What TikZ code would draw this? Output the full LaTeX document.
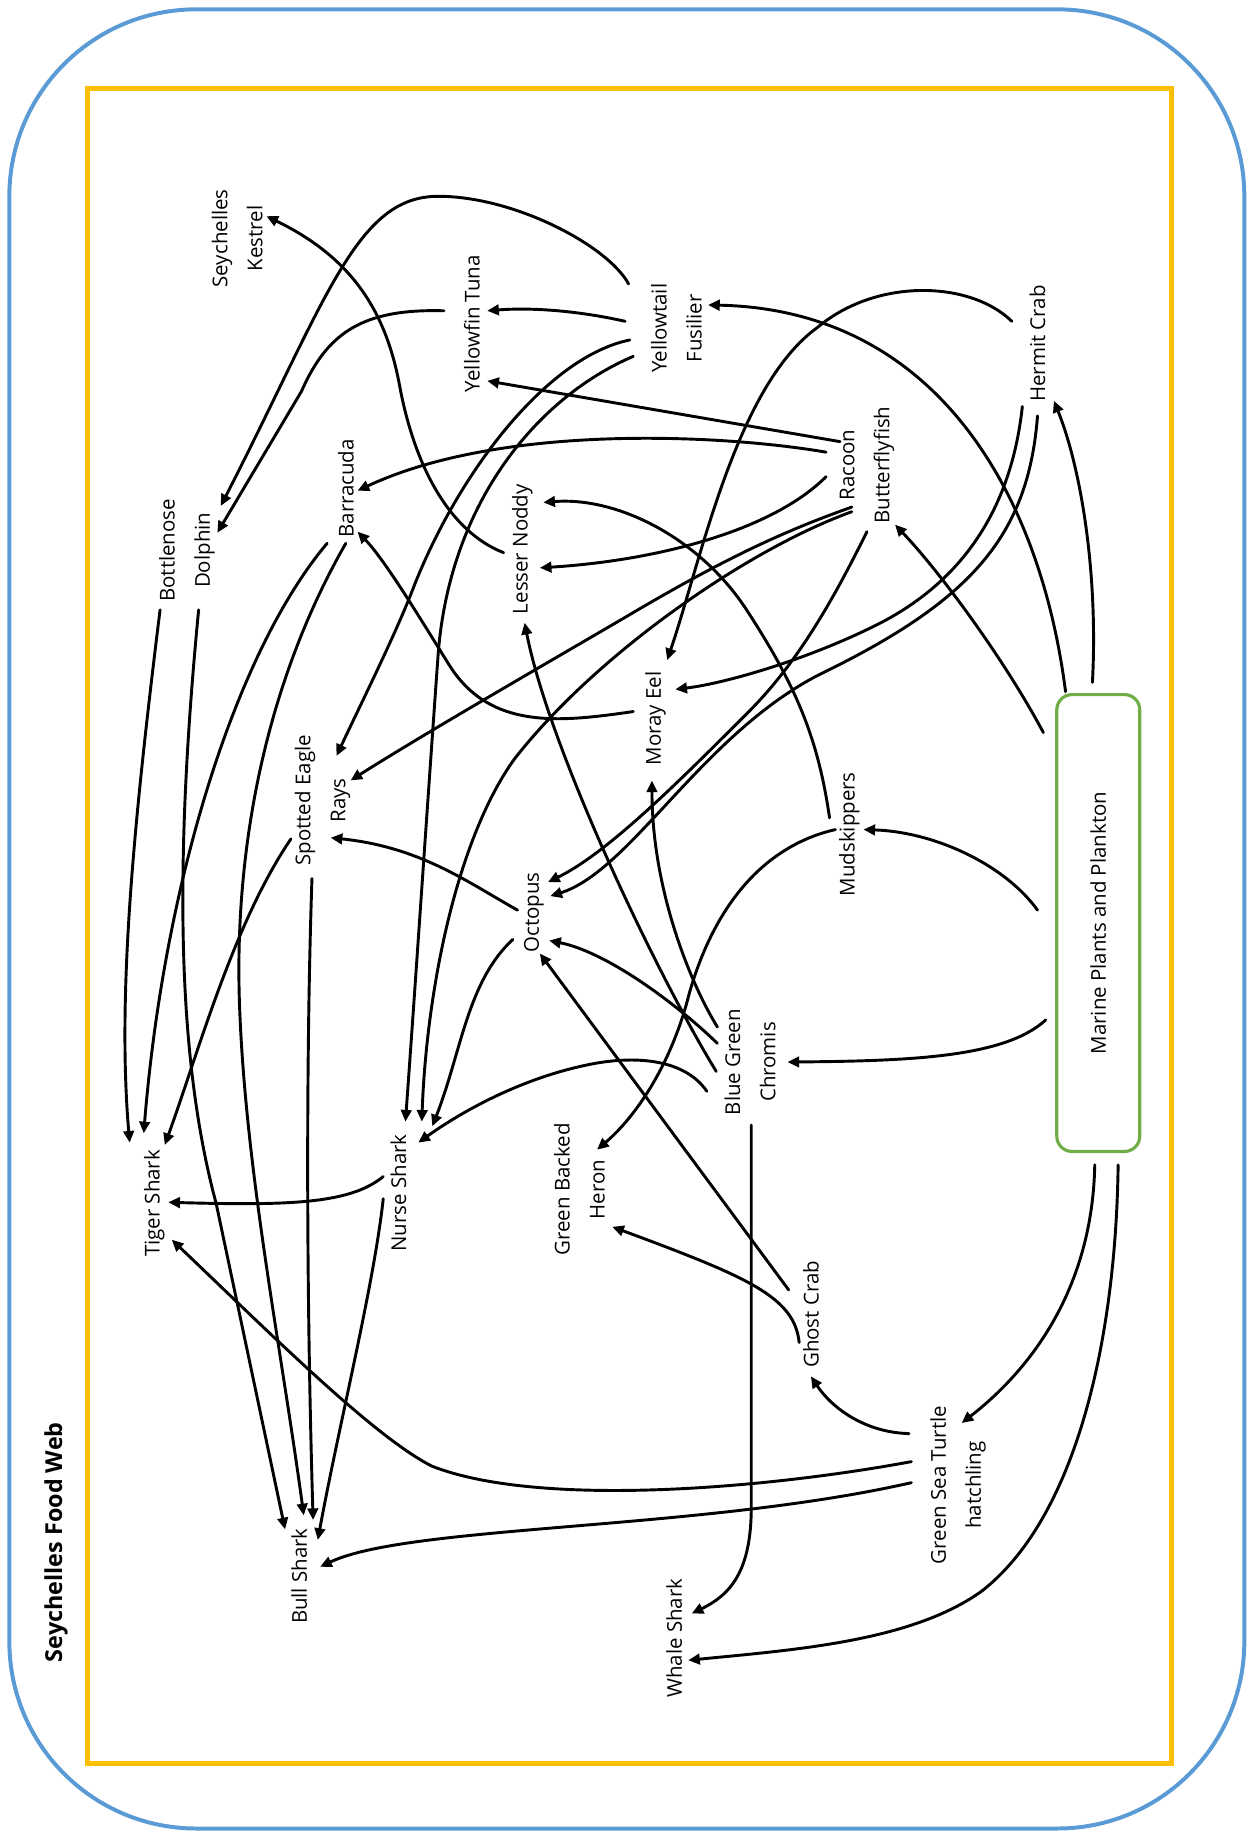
\documentclass[tikz,border=0pt]{standalone}
\usepackage{fontspec}
\setmainfont{Open Sans}
\usetikzlibrary{arrows.meta}
\definecolor{frameblue}{RGB}{91,155,213}
\definecolor{frameorange}{RGB}{255,192,0}
\definecolor{boxgreen}{RGB}{112,173,71}

\begin{document}
\begin{tikzpicture}[x=1pt,y=-1pt,
   species/.style={rotate=90,align=center,inner sep=2pt,font=\fontsize{17.5}{30}\selectfont},
   feeds/.style={-{Triangle[length=10pt,width=9pt]},line width=2.5pt,line cap=round}]
\useasboundingbox (0,0) rectangle (1068,1568);
\draw[frameblue,line width=3.4pt,rounded corners=160pt] (8,8) rectangle (1065,1565);
\draw[frameorange,line width=4.3pt] (75,76) rectangle (1003,1509);

\node[species,font=\bfseries\fontsize{20}{24}\selectfont] (title) at (48,1320) {Seychelles Food Web};
\node[species] (kestrel) at (203,204) {Seychelles\\Kestrel};
\node[species] (tuna) at (404,277) {Yellowfin Tuna};
\node[species] (fusilier) at (579,281) {Yellowtail\\Fusilier};
\node[species] (hermit) at (888,294) {Hermit Crab};
\node[species] (racoon) at (742,398) {Racoon\\Butterflyfish};
\node[species] (barracuda) at (296,418) {Barracuda};
\node[species] (dolphin) at (160,471) {Bottlenose\\Dolphin};
\node[species] (noddy) at (447,470) {Lesser Noddy};
\node[species] (moray) at (561,615) {Moray Eel};
\node[species] (rays) at (276,685) {Spotted Eagle\\Rays};
\node[species] (mudskip) at (727,714) {Mudskippers};
\node[species,draw=boxgreen,line width=2.7pt,rounded corners=13pt,
   minimum width=391pt,minimum height=71pt] (plants) at (940,790) {Marine Plants and Plankton};
\node[species] (octopus) at (457,781) {Octopus};
\node[species] (chromis) at (642,909) {Blue Green\\Chromis};
\node[species] (heron) at (496,1018) {Green Backed\\Heron};
\node[species] (tiger) at (132,1030) {Tiger Shark};
\node[species] (nurse) at (341,1021) {Nurse Shark};
\node[species] (ghost) at (694,1125) {Ghost Crab};
\node[species] (turtle) at (820,1271) {Green Sea Turtle\\hatchling};
\node[species] (bull) at (256,1349) {Bull Shark};
\node[species] (whale) at (577,1402) {Whale Shark};

\draw[feeds] ([shift={(-5,-206)}]plants.center) .. controls (940,490) and (925,400) .. ([shift={(14,49)}]hermit.center);
\draw[feeds] ([shift={(-28,-198)}]plants.center) .. controls (890,420) and (800,265) .. ([shift={(27,-20)}]fusilier.center);
\draw[feeds] ([shift={(-47,-163)}]plants.center) .. controls (860,565) and (805,490) .. ([shift={(24,51)}]racoon.center);
\draw[feeds] ([shift={(-52,-11)}]plants.center) .. controls (860,740) and (800,712) .. ([shift={(12,-4)}]mudskip.center);
\draw[feeds] ([shift={(-45,83)}]plants.center) .. controls (860,905) and (780,908) .. ([shift={(32,0)}]chromis.center);
\draw[feeds] ([shift={(-3,207)}]plants.center) .. controls (935,1100) and (885,1170) .. ([shift={(3,-53)}]turtle.center);
\draw[feeds] ([shift={(17,207)}]plants.center) .. controls (955,1150) and (920,1300) .. (840,1362)
   .. controls (780,1405) and (680,1412) .. ([shift={(12,19)}]whale.center);

\draw[feeds] ([shift={(-22,-19)}]hermit.center) .. controls (830,240) and (750,238) .. (700,280)
   .. controls (630,330) and (600,480) .. ([shift={(10,-50)}]moray.center);
\draw[feeds] ([shift={(-13,54)}]hermit.center) .. controls (865,440) and (820,500) .. (750,535)
   .. controls (690,565) and (620,585) .. ([shift={(17,-25)}]moray.center);
\draw[feeds] ([shift={(0,62)}]hermit.center) .. controls (880,460) and (830,515) .. (700,578)
   .. controls (600,630) and (540,745) .. ([shift={(14,-14)}]octopus.center);

\draw[feeds] ([shift={(-23,-20)}]racoon.center) -- ([shift={(13,49)}]tuna.center);
\draw[feeds] ([shift={(-35,-11)}]racoon.center) .. controls (620,372) and (430,362) .. ([shift={(10,2)}]barracuda.center);
\draw[feeds] ([shift={(-35,10)}]racoon.center) .. controls (660,455) and (560,480) .. ([shift={(15,16)}]noddy.center);
\draw[feeds] ([shift={(-13,36)}]racoon.center) .. controls (670,455) and (620,478) .. (534,529)
   .. controls (450,578) and (360,630) .. ([shift={(24,-17)}]rays.center);
\draw[feeds] ([shift={(-13,40)}]racoon.center) .. controls (640,470) and (510,560) .. (440,650)
   .. controls (390,720) and (365,850) .. ([shift={(20,-61)}]nurse.center);
\draw[feeds] ([shift={(0,57)}]racoon.center) .. controls (710,520) and (680,570) .. (640,610)
   .. controls (580,670) and (520,730) .. ([shift={(12,-26)}]octopus.center);

\draw[feeds] ([shift={(-41,-38)}]fusilier.center) .. controls (520,210) and (440,168) .. (375,168)
   .. controls (305,168) and (280,255) .. ([shift={(29,-38)}]dolphin.center);
\draw[feeds] ([shift={(-44,-6)}]fusilier.center) .. controls (495,266) and (455,263) .. ([shift={(13,-11)}]tuna.center);
\draw[feeds] ([shift={(-40,10)}]fusilier.center) .. controls (470,305) and (395,400) .. (355,500)
   .. controls (340,540) and (310,600) .. ([shift={(12,-38)}]rays.center);
\draw[feeds] ([shift={(-37,24)}]fusilier.center) .. controls (460,340) and (385,430) .. (375,560)
   .. controls (365,700) and (355,850) .. ([shift={(6,-61)}]nurse.center);

\draw[feeds] ([shift={(-24,-11)}]tuna.center) .. controls (310,264) and (280,285) .. (258,335)
   -- ([shift={(26,-15)}]dolphin.center);
\draw[feeds] ([shift={(-16,3)}]noddy.center) .. controls (385,455) and (355,400) .. (342,330)
   .. controls (330,265) and (300,220) .. ([shift={(25,-19)}]kestrel.center);

\draw[feeds] ([shift={(-17,-14)}]mudskip.center) .. controls (700,630) and (680,585) .. (639,522)
   .. controls (600,462) and (530,425) .. ([shift={(18,-40)}]noddy.center);
\draw[feeds] ([shift={(-12,-4)}]mudskip.center) .. controls (650,725) and (610,780) .. (590,850)
   .. controls (575,910) and (545,955) .. ([shift={(15,-34)}]heron.center);

\draw[feeds] ([shift={(-28,-30)}]chromis.center) .. controls (590,840) and (558,760) .. ([shift={(-3,53)}]moray.center);
\draw[feeds] ([shift={(-28,-16)}]chromis.center) .. controls (580,860) and (520,815) .. ([shift={(13,24)}]octopus.center);
\draw[feeds] ([shift={(-29,8)}]chromis.center) .. controls (560,830) and (470,640) .. ([shift={(2,63)}]noddy.center);
\draw[feeds] ([shift={(-37,25)}]chromis.center) .. controls (585,905) and (540,903) .. (500,912)
   .. controls (440,925) and (390,955) .. ([shift={(17,-43)}]nurse.center);
\draw[feeds] ([shift={(1,54)}]chromis.center) -- (643,1290) .. controls (643,1345) and (625,1365) .. ([shift={(15,-21)}]whale.center);

\draw[feeds] ([shift={(-14,-2)}]octopus.center) .. controls (400,755) and (360,725) .. ([shift={(7,32)}]rays.center);
\draw[feeds] ([shift={(-18,23)}]octopus.center) .. controls (400,840) and (395,900) .. ([shift={(29,-57)}]nurse.center);

\draw[feeds] ([shift={(-19,-6)}]moray.center) .. controls (480,618) and (420,625) .. (385,570)
   .. controls (360,530) and (330,480) .. ([shift={(10,37)}]barracuda.center);

\draw[feeds] ([shift={(-19,-21)}]ghost.center) -- ([shift={(5,35)}]octopus.center);
\draw[feeds] ([shift={(-10,24)}]ghost.center) .. controls (680,1110) and (640,1093) .. ([shift={(28,32)}]heron.center);

\draw[feeds] ([shift={(-42,-44)}]turtle.center) .. controls (740,1226) and (712,1205) .. ([shift={(0,53)}]ghost.center);
\draw[feeds] ([shift={(-40,-20)}]turtle.center) .. controls (650,1275) and (460,1290) .. (370,1255)
   .. controls (320,1230) and (230,1140) .. ([shift={(15,31)}]tiger.center);
\draw[feeds] ([shift={(-40,-2)}]turtle.center) .. controls (600,1310) and (350,1305) .. ([shift={(18,-8)}]bull.center);

\draw[feeds] ([shift={(-23,51)}]dolphin.center) .. controls (115,700) and (100,850) .. ([shift={(-21,-52)}]tiger.center);
\draw[feeds] ([shift={(10,51)}]dolphin.center) .. controls (150,730) and (150,900) .. (185,1030)
   -- ([shift={(-12,-40)}]bull.center);
\draw[feeds] ([shift={(-16,47)}]barracuda.center) .. controls (200,560) and (140,760) .. ([shift={(-9,-60)}]tiger.center);
\draw[feeds] ([shift={(0,47)}]barracuda.center) .. controls (230,580) and (200,720) .. (205,860)
   .. controls (210,1000) and (240,1150) .. ([shift={(4,-52)}]bull.center);
\draw[feeds] ([shift={(-27,33)}]rays.center) .. controls (200,790) and (170,900) .. ([shift={(9,-50)}]tiger.center);
\draw[feeds] ([shift={(-9,67)}]rays.center) .. controls (262,900) and (262,1100) .. ([shift={(12,-48)}]bull.center);
\draw[feeds] ([shift={(-13,-14)}]nurse.center) .. controls (300,1030) and (250,1032) .. ([shift={(12,-1)}]tiger.center);
\draw[feeds] ([shift={(-13,5)}]nurse.center) .. controls (320,1100) and (290,1220) .. ([shift={(16,-31)}]bull.center);
\end{tikzpicture}
\end{document}
